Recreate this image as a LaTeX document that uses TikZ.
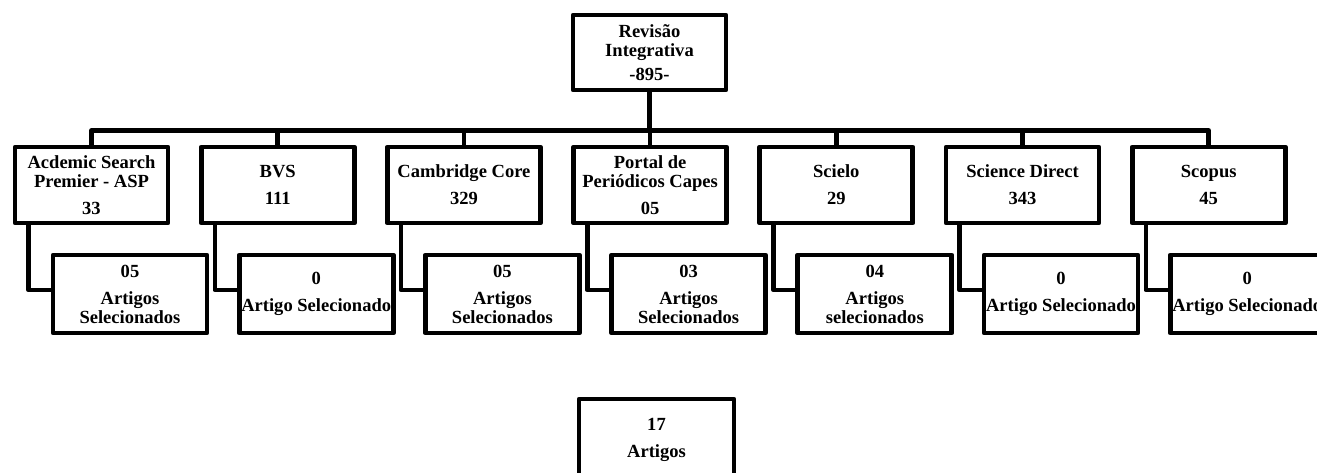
\documentclass[tikz,border=0pt]{standalone}
\usepackage{fontspec}
\setmainfont{Liberation Serif}
\begin{document}
\begin{tikzpicture}[x=0.75pt,y=-0.75pt,
  every node/.style={font=\bfseries\fontsize{13.9pt}{14.25pt}\selectfont},
  box/.style={draw,line width=3.5pt,line join=round,align=center,inner sep=0pt,
    minimum width=114.75pt,minimum height=57pt},
  sel/.style={box,minimum width=115.5pt,minimum height=58.5pt},
  link/.style={line width=3.5pt,line join=round}]
\clip (0,0) rectangle (1317,472);
\useasboundingbox (0,0) rectangle (1317,472);
% top
\node[box,minimum height=56.25pt] (top) at (649.5,52.5) {Revisão\\Integrativa\\[4pt]-895-};
% level 1
\node[box] (b1) at (91.5,185) {Acdemic Search\\Premier - ASP\\[6pt]33};
\node[box] (b2) at (277.7,185) {BVS\\[6pt]111};
\node[box] (b3) at (463.9,185) {Cambridge Core\\[6pt]329};
\node[box] (b4) at (650.1,185) {Portal de\\Periódicos Capes\\[6pt]05};
\node[box] (b5) at (836.3,185) {Scielo\\[6pt]29};
\node[box] (b6) at (1022.5,185) {Science Direct\\[6pt]343};
\node[box] (b7) at (1208.7,185) {Scopus\\[6pt]45};
% level 2
\node[sel] (c1) at (130,294) {05\\[6pt]Artigos\\Selecionados};
\node[sel] (c2) at (316.2,294) {0\\[6pt]Artigo Selecionado};
\node[sel] (c3) at (502.4,294) {05\\[6pt]Artigos\\Selecionados};
\node[sel] (c4) at (688.6,294) {03\\[6pt]Artigos\\Selecionados};
\node[sel] (c5) at (874.8,294) {04\\[6pt]Artigos\\selecionados};
\node[sel] (c6) at (1061,294) {0\\[6pt]Artigo Selecionado};
\node[sel] (c7) at (1247.2,294) {0\\[6pt]Artigo Selecionado};
% bottom
\node[box,minimum width=116.25pt,minimum height=61.5pt] (total) at (656.5,440) {17\\[6pt]Artigos};
% bus
\coordinate (bus) at (649.5,130.5);
\draw[link] (top.south) -- (bus);
\draw[link] (b1.north) |- (bus) -| (b7.north);
\foreach \i in {2,...,6} {\draw[link] (b\i.north) -- (b\i.north |- bus);}
% children links
\foreach \i in {1,...,7} {\draw[link] ([xshift=12pt]b\i.south west) |- ([yshift=3pt]c\i.west);}
\end{tikzpicture}
\end{document}
